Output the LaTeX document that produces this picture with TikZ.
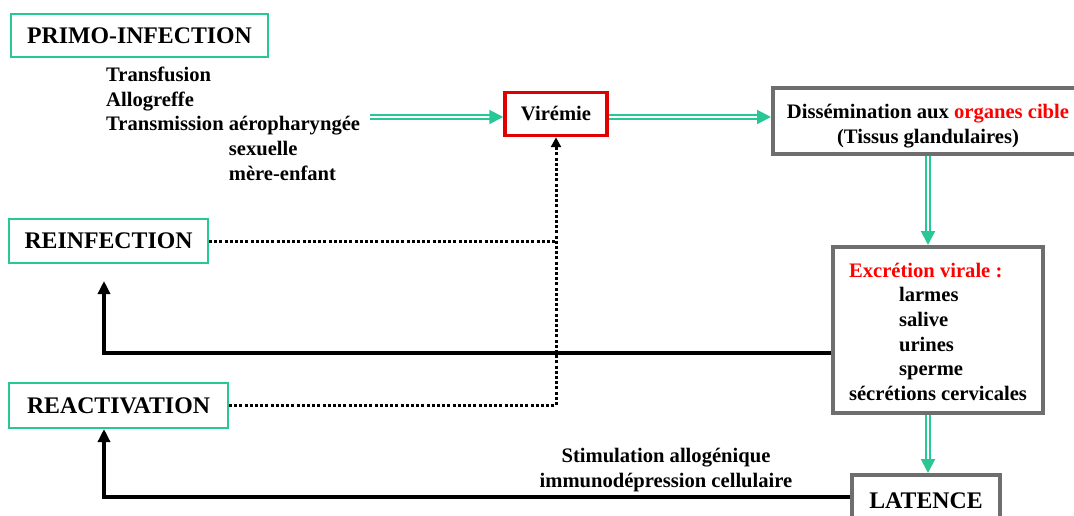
\documentclass[tikz,border=0pt]{standalone}
\usepackage{fontspec}
\setmainfont{Liberation Serif}
\usetikzlibrary{arrows.meta}
\definecolor{vert}{RGB}{40,200,150}
\definecolor{gris}{RGB}{110,110,110}
\definecolor{rouge}{RGB}{225,0,0}

\begin{document}
\begin{tikzpicture}[x=1pt,y=-1pt,
		txt/.style={font=\bfseries\fontsize{20.6}{24.7}\selectfont},
		gros/.style={font=\bfseries\fontsize{23.8}{27}\selectfont},
		titre/.style={draw=vert,line width=2pt,inner sep=0pt,gros},
		grisbox/.style={draw=gris,line width=4pt,inner sep=0pt},
		vfleche/.style={draw=vert,double=white,double distance=2pt,line width=2pt,-{Triangle[length=14pt,width=14pt,fill=vert]}},
		nfleche/.style={line width=3.5pt,-{Triangle[length=13pt,width=12pt]}},
		pointille/.style={line width=3pt,dash pattern=on 3pt off 2.2pt}]
		\useasboundingbox (0,0) rectangle (1074,516);
		
		\node[titre,minimum width=257pt,minimum height=43pt] (primo) at (139.5,35.5) {PRIMO-INFECTION};
		\node[txt,anchor=north west,inner sep=0pt] (modes) at (106,64) {\begin{tabular}{@{}l@{ }l}
				Transfusion\\
				Allogreffe\\
				Transmission & aéropharyngée\\
				& sexuelle\\
				& mère-enfant
			\end{tabular}};
		\node[titre,minimum width=199pt,minimum height=44pt] (reinf) at (108.5,241) {REINFECTION};
		\node[titre,minimum width=219pt,minimum height=45pt] (react) at (118.5,405.5) {REACTIVATION};
		
		\node[txt,draw=rouge,line width=3.5pt,minimum width=102pt,minimum height=43pt] (viremie) at (556,114) {Virémie};
		\node[txt,grisbox,align=center,minimum width=310pt,minimum height=66pt] (dissem) at (928,121) {\rule{0pt}{24pt}Dissémination aux \textcolor{red}{organes cible}\\(Tissus glandulaires)};
		\node[txt,grisbox,minimum width=210pt,minimum height=166pt] (excretion) at (938,330) {\begin{tabular}{@{}l@{}}
				\rule{0pt}{25pt}\textcolor{red}{Excrétion virale :}\\
				\hspace*{50pt}larmes\\
				\hspace*{50pt}salive\\
				\hspace*{50pt}urines\\
				\hspace*{50pt}sperme\\
				sécrétions cervicales
			\end{tabular}};
		\node[gros,grisbox,minimum width=148pt,minimum height=52pt] (latence) at (926,501) {LATENCE};
		\node[txt,align=center] (stim) at (666,470) {Stimulation allogénique\\immunodépression cellulaire};
		
		\coordinate (depart) at (370,117);
		\coordinate (reinfpt) at (104,281);
		\draw[vfleche] (depart) -- (depart -| viremie.west);
		\draw[vfleche] (viremie.east |- depart) -- (depart -| dissem.west);
		\draw[vfleche] (dissem.south) -- (excretion.north -| dissem.south);
		\draw[vfleche] (excretion.south -| dissem.south) -- (latence.north -| dissem.south);
		
		\draw[nfleche] ([yshift=-23pt]excretion.west) -| (reinfpt);
		\draw[nfleche] ([yshift=4pt]latence.west) -| (reinfpt |- react.south);
		
		\draw[pointille] (reinf.east) -- (reinf.east -| viremie.south);
		\draw[pointille,-{Triangle[length=10pt,width=10pt]}] (react.east) -| (viremie.south);
\end{tikzpicture}
\end{document}
